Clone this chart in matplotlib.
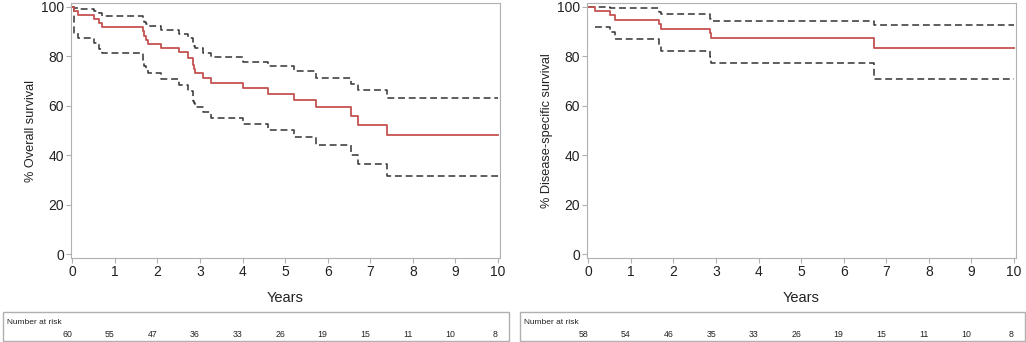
import numpy as np
import matplotlib
matplotlib.use("Agg")
import matplotlib.pyplot as plt
from matplotlib.patches import Rectangle
from matplotlib.transforms import blended_transform_factory

plt.rcParams["font.family"] = ["Liberation Sans", "DejaVu Sans"]

# overall survival (left)
os_t = [0, 0.05, 0.13, 0.5, 0.63, 0.7, 1.65, 1.69, 1.73, 1.78, 2.09, 2.5, 2.72, 2.84, 2.86, 2.88,
        3.08, 3.26, 4.02, 4.61, 5.22, 5.73, 6.54, 6.72, 7.39, 10]
os_s = [100, 98.3, 96.7, 95.0, 93.3, 91.7, 90.0, 88.3, 86.7, 85.0, 83.3, 81.7, 79.3, 76.5, 75.0, 73.3,
        71.4, 69.3, 67.0, 64.8, 62.3, 59.3, 55.8, 52.3, 48.3, 48.3]
os_hi = [100, 99.5, 99.0, 98.3, 97.3, 96.4, 95.0, 94.0, 93.0, 92.3, 90.4, 88.9, 87.5, 85.0, 84.0, 83.2,
         81.4, 79.6, 77.8, 76.0, 73.9, 71.4, 68.9, 66.2, 63.0, 63.0]
os_lo = [100, 89.2, 87.5, 85.4, 83.0, 81.2, 78.5, 76.0, 74.5, 73.3, 70.8, 68.3, 66.0, 62.0, 61.0, 59.6,
         57.5, 55.2, 52.8, 50.4, 47.4, 44.1, 40.0, 36.3, 31.7, 31.7]
os_risk = [60, 55, 47, 36, 33, 26, 19, 15, 11, 10, 8]

# disease-specific survival (right)
dss_t = [0, 0.16, 0.5, 0.62, 1.66, 1.71, 2.86, 2.89, 6.72, 10]
dss_s = [100, 98.3, 96.5, 94.8, 93.0, 91.2, 89.2, 87.2, 83.5, 83.5]
dss_hi = [100, 100, 99.6, 99.6, 97.8, 97.2, 95.0, 94.4, 92.7, 92.7]
dss_lo = [np.nan, 91.7, 89.6, 87.0, 84.5, 82.3, 79.7, 77.1, 70.8, 70.8]
dss_risk = [58, 54, 46, 35, 33, 26, 19, 15, 11, 10, 8]

years = list(range(0, 11))

W, H = 1026, 342
fig = plt.figure(figsize=(W / 100, H / 100), dpi=100)

red = "#c4524f"
dash = "#333333"
grey = "#b0b0b0"
txt = "#222222"


def km_panel(x0, x1, t, s, hi, lo, ylabel, risk, bx0, bx1):
    ax = fig.add_axes([x0 / W, 1 - 258 / H, (x1 - x0) / W, 255 / H])
    ax.step(t, hi, where="post", color=dash, lw=1.1, ls=(0, (4.5, 2.5)))
    ax.step(t, lo, where="post", color=dash, lw=1.1, ls=(0, (4.5, 2.5)))
    ax.step(t, s, where="post", color=red, lw=1.3)
    ax.set_xlim(-0.03, 10.05)
    ax.set_ylim(-1.5, 101.5)
    ax.set_xticks(years)
    ax.set_yticks([0, 20, 40, 60, 80, 100])
    for sp in ax.spines.values():
        sp.set_color(grey)
    ax.tick_params(direction="out", length=3.5, color=grey, labelsize=10, labelcolor=txt, pad=1.5)
    ax.set_xlabel("Years", fontsize=10.5, color=txt, labelpad=9)
    ax.set_ylabel(ylabel, fontsize=9.2, color=txt, labelpad=3)

    # number at risk box
    fig.patches.append(Rectangle((bx0 / W, 1 - 341 / H), (bx1 - bx0) / W, 29 / H,
                                 transform=fig.transFigure, fill=False, edgecolor=grey, lw=1))
    fig.text((bx0 + 4) / W, 1 - 324 / H, "Number at risk", fontsize=6, color=txt, va="baseline")
    tr = blended_transform_factory(ax.transData, fig.transFigure)
    for yr, n in zip(years, risk):
        ax.text(yr, 1 - 337 / H, str(n), transform=tr, fontsize=6.3, color=txt,
                ha="right", va="baseline", clip_on=False)
    return ax


km_panel(71, 500, os_t, os_s, os_hi, os_lo, "% Overall survival", os_risk, 3, 509)
km_panel(587, 1016, dss_t, dss_s, dss_hi, dss_lo, "% Disease-specific survival", dss_risk, 520, 1025)

fig.savefig("out.png", dpi=100)
